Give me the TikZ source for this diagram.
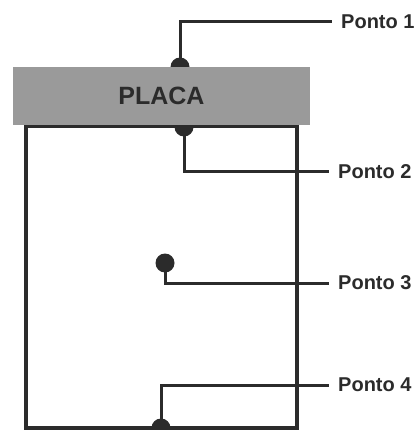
\documentclass[tikz,border=0pt]{standalone}
\usepackage{fontspec}
\setmainfont{Liberation Sans}
\definecolor{ink}{HTML}{2B2B2B}
\definecolor{plategray}{HTML}{9A9A9A}
\begin{document}
\begin{tikzpicture}[x=1pt,y=-1pt,
  wire/.style={draw=ink,line width=3pt},
  frame/.style={draw=ink,line width=4pt},
  dot/.style={circle,fill=ink,inner sep=0pt,minimum size=19pt},
  tag/.style={anchor=west,inner xsep=9pt,inner ysep=0pt,text=ink,font=\bfseries\fontsize{20}{22}\selectfont}]
\useasboundingbox (0,0) rectangle (417,430);
% enclosure below the plate
\draw[frame] (26,126) rectangle (297,428);
% measuring points
\node[dot] (d1) at (180,67) {};
\node[dot] (d2) at (184,127) {};
\node[dot] (d3) at (165,263) {};
\node[dot] (d4) at (161,428) {};
% the plate
\node[fill=plategray,minimum width=297pt,minimum height=58pt,inner sep=0pt,
  text=ink,font=\bfseries\fontsize{25}{28}\selectfont] (plate) at (161.5,96) {PLACA};
% labels
\node[tag] (p1) at (332,22) {Ponto 1};
\node[tag] (p2) at (329,172) {Ponto 2};
\node[tag] (p3) at (329,283) {Ponto 3};
\node[tag] (p4) at (329,385) {Ponto 4};
% leaders
\draw[wire] (d1.center) |- (p1.west);
\draw[wire] (d2.center) |- (p2.west);
\draw[wire] (d3.center) |- (p3.west);
\draw[wire] (d4.center) |- (p4.west);
\end{tikzpicture}
\end{document}
